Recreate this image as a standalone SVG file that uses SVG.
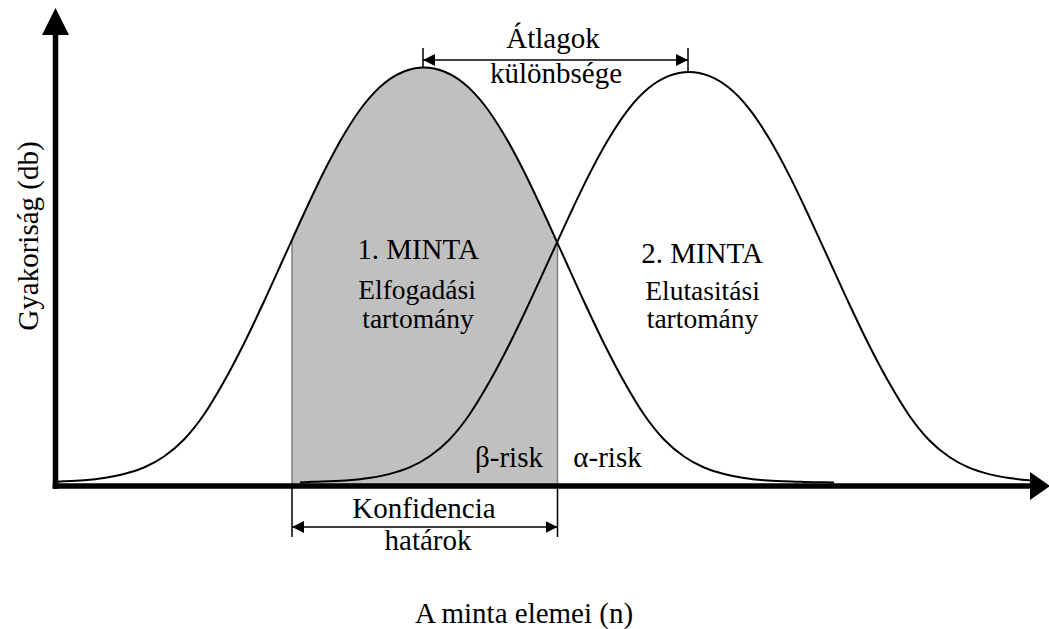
<svg xmlns="http://www.w3.org/2000/svg" width="1049" height="629" viewBox="0 0 1049 629">
<style>
text{font-family:'Liberation Serif','DejaVu Serif',serif;font-size:29px;fill:#000;text-anchor:middle}
text.s{font-size:27.5px}
.curve{fill:none;stroke:#000;stroke-width:2}
.dim{stroke:#000;stroke-width:1.5;fill:none}
.bnd{stroke:#808080;stroke-width:1.5}
</style>
<defs>
<marker id="ah" markerUnits="userSpaceOnUse" markerWidth="13" markerHeight="13" refX="12" refY="6" orient="auto-start-reverse" viewBox="0 0 13 13">
<path d="M0,0 L12,6 L0,12 Z" fill="#000"/>
</marker>
<clipPath id="shadeClip"><rect x="292" y="0" width="265.5" height="486"/></clipPath>
</defs>

<g id="acceptance-region">
<path clip-path="url(#shadeClip)" fill="#c0c0c0" d="M57,481.7 L64,481.3 C70.67,481.02 77.33,480.75 84,480.2 S97.33,479.03 104,478 S117.33,475.75 124,474 S137.33,470.42 144,467.5 S157.33,461.17 164,456.5 S177.33,446.5 184,439.5 S197.33,424.17 204,414.5 S217.33,393.33 224,381.5 S237.33,356.83 244,343.5 S257.33,315.83 264,301.5 S277.33,272.17 284,257.5 S297.33,227.83 304,213.5 S317.33,184.67 324,171.5 S337.33,145.67 344,134.5 S357.33,113 364,104.5 S377.33,89 384,83.5 S397.33,74.17 404,71.5 S417.33,67.5 424,67.5 S437.33,68.83 444,71.5 S457.33,78 464,83.5 S477.33,96 484,104.5 S497.33,123.33 504,134.5 S517.33,158.33 524,171.5 S537.33,199.17 544,213.5 S557.33,242.83 564,257.5 S577.33,287.17 584,301.5 S597.33,330.17 604,343.5 S617.33,369.67 624,381.5 S637.33,404.83 644,414.5 S657.33,432.5 664,439.5 S677.33,451.83 684,456.5 S697.33,464.58 704,467.5 S717.33,472.25 724,474 S737.33,476.97 744,478 S757.33,479.65 764,480.2 S777.33,481.02 784,481.3 S797.33,481.73 804,481.9 S817.33,482.2 824,482.3 L834,482.5 L834,486 L57,486 Z"/>
<line class="bnd" x1="292" y1="241" x2="292" y2="486"/>
<line class="bnd" x1="557.5" y1="243" x2="557.5" y2="486"/>
</g>

<g id="sample-1-curve">
<path class="curve" d="M57,481.7 L64,481.3 C70.67,481.02 77.33,480.75 84,480.2 S97.33,479.03 104,478 S117.33,475.75 124,474 S137.33,470.42 144,467.5 S157.33,461.17 164,456.5 S177.33,446.5 184,439.5 S197.33,424.17 204,414.5 S217.33,393.33 224,381.5 S237.33,356.83 244,343.5 S257.33,315.83 264,301.5 S277.33,272.17 284,257.5 S297.33,227.83 304,213.5 S317.33,184.67 324,171.5 S337.33,145.67 344,134.5 S357.33,113 364,104.5 S377.33,89 384,83.5 S397.33,74.17 404,71.5 S417.33,67.5 424,67.5 S437.33,68.83 444,71.5 S457.33,78 464,83.5 S477.33,96 484,104.5 S497.33,123.33 504,134.5 S517.33,158.33 524,171.5 S537.33,199.17 544,213.5 S557.33,242.83 564,257.5 S577.33,287.17 584,301.5 S597.33,330.17 604,343.5 S617.33,369.67 624,381.5 S637.33,404.83 644,414.5 S657.33,432.5 664,439.5 S677.33,451.83 684,456.5 S697.33,464.58 704,467.5 S717.33,472.25 724,474 S737.33,476.97 744,478 S757.33,479.65 764,480.2 S777.33,481.02 784,481.3 S797.33,481.73 804,481.9 S817.33,482.2 824,482.3 L834,482.5"/>
</g>

<g id="sample-2-curve">
<path class="curve" d="M300,482.4 L309,481.9 C315.67,481.73 322.33,481.58 329,481.3 S342.33,480.74 349,480.2 S362.33,479.02 369,478 S382.33,475.83 389,474.1 S402.33,470.59 409,467.7 S422.33,461.42 429,456.8 S442.33,446.92 449,440 S462.33,424.76 469,415.2 S482.33,394.31 489,382.6 S502.33,358.19 509,345 S522.33,317.68 529,303.5 S542.33,274.41 549,259.9 S562.33,230.58 569,216.4 S582.33,187.92 589,174.9 S602.33,149.35 609,138.3 S622.33,117.01 629,108.6 S642.33,93.24 649,87.8 S662.33,78.54 669,75.9 S682.33,72 689,72 S702.33,73.26 709,75.9 S722.33,82.36 729,87.8 S742.33,100.19 749,108.6 S762.33,127.25 769,138.3 S782.33,161.88 789,174.9 S802.33,202.22 809,216.4 S822.33,245.39 829,259.9 S842.33,289.32 849,303.5 S862.33,331.81 869,345 S882.33,370.89 889,382.6 S902.33,405.64 909,415.2 S922.33,433.08 929,440 S942.33,452.18 949,456.8 S962.33,464.81 969,467.7 S982.33,472.37 989,474.1 S1002.33,476.98 1009,478 S1022.33,479.66 1029,480.2 L1036,480.8"/>
</g>

<g id="axes">
<line x1="55.5" y1="30" x2="55.5" y2="488.8" stroke="#000" stroke-width="5.5"/>
<polygon points="55.5,8 42,35 69,35" fill="#000"/>
<line x1="52.7" y1="486" x2="1032" y2="486" stroke="#000" stroke-width="5.5"/>
<polygon points="1050,486 1030,472 1030,500" fill="#000"/>
</g>

<g id="connectors">
<line class="dim" x1="423" y1="48" x2="423" y2="68"/>
<line class="dim" x1="688" y1="48" x2="688" y2="72"/>
<line class="dim" x1="423" y1="60" x2="688" y2="60" marker-start="url(#ah)" marker-end="url(#ah)"/>
<line class="dim" x1="292" y1="488" x2="292" y2="537"/>
<line class="dim" x1="557.5" y1="488" x2="557.5" y2="537"/>
<line class="dim" x1="292" y1="527" x2="557.5" y2="527" marker-start="url(#ah)" marker-end="url(#ah)"/>
</g>

<g id="label-means-diff">
<text x="553" y="48">Átlagok</text>
<text x="556" y="83">különbsége</text>
</g>
<g id="label-sample-1">
<text x="418" y="259">1. MINTA</text>
<text class="s" x="417" y="299">Elfogadási</text>
<text class="s" x="418" y="328">tartomány</text>
</g>
<g id="label-sample-2">
<text x="702" y="263">2. MINTA</text>
<text class="s" x="702.5" y="300">Elutasitási</text>
<text class="s" x="702.5" y="328">tartomány</text>
</g>
<g id="label-beta">
<text x="509" y="467">β-risk</text>
</g>
<g id="label-alpha">
<text x="607.5" y="467">α-risk</text>
</g>
<g id="label-confidence">
<text x="424" y="518">Konfidencia</text>
<text x="428" y="550">határok</text>
</g>
<g id="label-x-axis">
<text x="524" y="623">A minta elemei (n)</text>
</g>
<g id="label-y-axis">
<text transform="translate(38,236) rotate(-90)" x="0" y="0">Gyakoriság (db)</text>
</g>
</svg>
